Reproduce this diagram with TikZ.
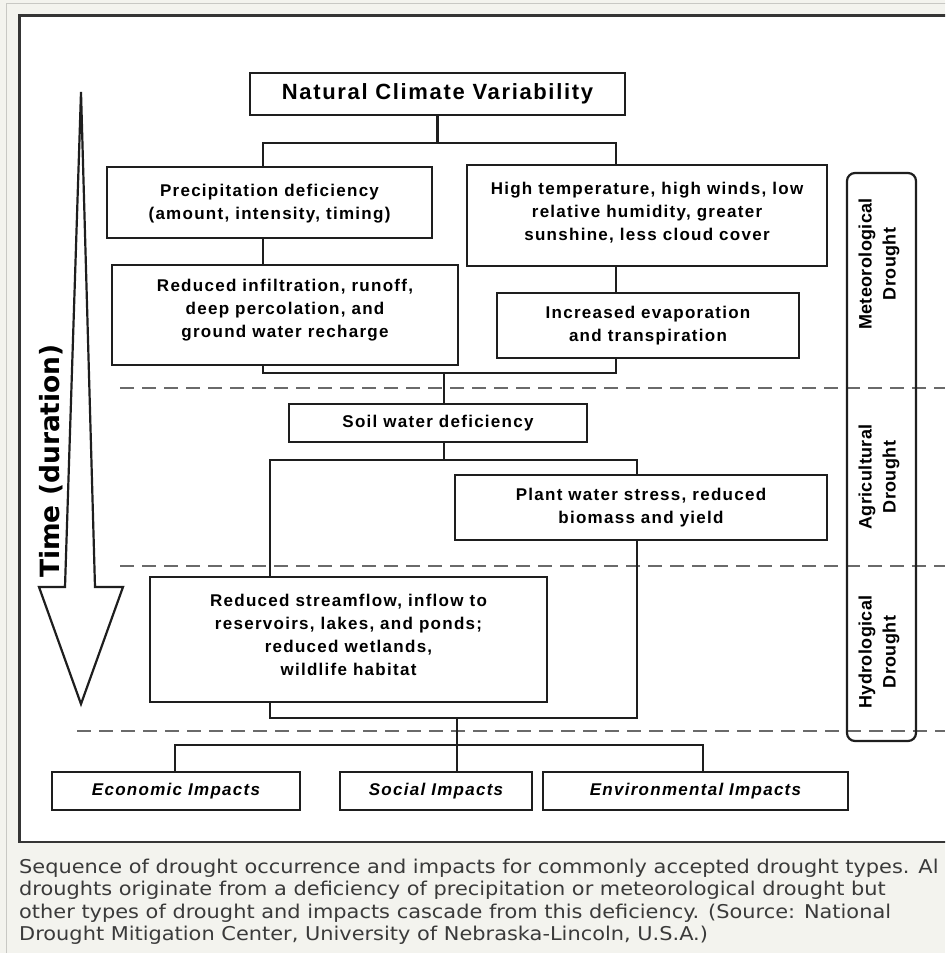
\documentclass[tikz,border=0pt]{standalone}
\usepackage{fontspec}
\setmainfont{Liberation Sans}
\newfontfamily\capfont[FakeStretch=1.1]{DejaVu Sans}
\newfontfamily\timefont{DejaVu Sans}
\definecolor{pagebg}{HTML}{F3F3EE}
\definecolor{framegray}{HTML}{C8C8C4}
\definecolor{ink}{HTML}{1E1E1E}
\definecolor{dashgray}{HTML}{6A6A6A}
\definecolor{captext}{HTML}{3A3A3A}
\newcommand\boxtext{\fontsize{17}{23}\selectfont\bfseries\addfontfeature{LetterSpace=7.5}}
\newcommand\boxat[7][]{%
  \node[box,minimum width={(#5-#3)*1pt},minimum height={(#6-#4)*1pt}] (#2) at ({(#3+#5)/2},{(#4+#6)/2}) {};
  \node[boxlabel,#1] (#2-t) at (#2.center) {#7};}
\tikzset{
  box/.style={draw=ink, line width=2.6pt, fill=white, inner sep=0pt},
  boxlabel/.style={inner sep=0pt, align=center, font=\boxtext},
  ital/.style={font=\boxtext\itshape},
  conn/.style={draw=ink, line width=2.6pt},
  sepline/.style={draw=dashgray, line width=2.8pt, dash pattern=on 14pt off 8pt},
  sidelabel/.style={rotate=90, align=center, font=\fontsize{18}{24}\selectfont\bfseries\addfontfeature{LetterSpace=2}},
  capline/.style={anchor=base west, inner sep=0pt, text=captext, font=\capfont\fontsize{19}{22.5}\selectfont},
}
\begin{document}
\begin{tikzpicture}[x=1pt,y=-1pt]
\useasboundingbox (0,0) rectangle (945,953);
\clip (0,0) rectangle (945,953);
% page background and panel
\fill[pagebg] (0,0) rectangle (945,953);
\draw[framegray, line width=1pt] (6.5,3) rectangle (960,970);
\draw[ink!90, line width=2.2pt, fill=white] (19.5,15.5) rectangle (960,842);

% separators
\draw[sepline] (120,388) -- (945,388);
\draw[sepline] (120,566) -- (945,566);
\draw[sepline] (77,731) -- (945,731);

% time arrow
\draw[ink, line width=2.2pt, line join=miter, fill=white]
  (81,92) -- (95,587) -- (123,587) -- (81,704) -- (39,587) -- (65,587) -- cycle;
\node[rotate=90, inner sep=0pt, font=\timefont\bfseries\fontsize{26.5}{30}\selectfont] (time) at (51,461) {Time (duration)};

% side box
\node[draw=ink, line width=2.2pt, rounded corners=8pt, fill=none, minimum width=69pt, minimum height=568pt, inner sep=0pt] (side) at (881.5,457) {};
\node[sidelabel] (meteo) at (879,264) {Meteorological\\Drought};
\node[sidelabel] (agri) at (879,477) {Agricultural\\Drought};
\node[sidelabel] (hydrol) at (879,652) {Hydrological\\Drought};

% boxes
\boxat{ncv}{250}{73}{625}{115}{\fontsize{22}{26}\selectfont Natural Climate Variability}
\boxat[yshift=-1pt]{precip}{107}{167}{432}{238}{Precipitation deficiency\\(amount, intensity, timing)}
\boxat[yshift=5pt]{reduced}{112}{265}{458}{365}{Reduced infiltration, runoff,\\deep percolation, and\\ground water recharge}
\boxat[yshift=3pt]{hitemp}{467}{165}{827}{266}{High temperature, high winds, low\\relative humidity, greater\\sunshine, less cloud cover}
\boxat{evap}{497}{293}{799}{358}{Increased evaporation\\and transpiration}
\boxat{soil}{289}{404}{587}{442}{Soil water deficiency}
\boxat{plant}{455}{475}{827}{540}{Plant water stress, reduced\\biomass and yield}
\boxat[yshift=5pt]{hydro}{150}{577}{547}{702}{Reduced streamflow, inflow to\\reservoirs, lakes, and ponds;\\reduced wetlands,\\wildlife habitat}
\boxat[ital]{econ}{52}{772}{300}{810}{Economic Impacts}
\boxat[ital]{social}{340}{772}{532}{810}{Social Impacts}
\boxat[ital]{env}{543}{772}{848}{810}{Environmental Impacts}

% helper x positions
\coordinate (xa) at (263,0);
\coordinate (xb) at (616,0);
\coordinate (xc) at (270,0);
\coordinate (xd) at (637,0);
\coordinate (xe) at (175,0);
\coordinate (xf) at (457,0);
\coordinate (xg) at (703,0);
\coordinate (xs) at (444,0);
\coordinate (j1) at (437.5,143);
\coordinate (j2) at (444,373);
\coordinate (j3) at (444,460);
\coordinate (j4) at (457,718);
\coordinate (j5) at (457,745);

% connectors
\draw[conn] (ncv.south) -- (j1);
\draw[conn] (precip.north -| xa) |- (j1) -| (hitemp.north -| xb);
\draw[conn] (precip.south -| xa) -- (reduced.north -| xa);
\draw[conn] (hitemp.south -| xb) -- (evap.north -| xb);
\draw[conn] (reduced.south -| xa) |- (j2) -| (evap.south -| xb);
\draw[conn] (j2) -- (soil.north -| xs);
\draw[conn] (soil.south -| xs) -- (j3);
\draw[conn] (hydro.north -| xc) |- (j3) -| (plant.north -| xd);
\draw[conn] (hydro.south -| xc) |- (j4) -| (plant.south -| xd);
\draw[conn] (j4) -- (j5);
\draw[conn] (econ.north -| xe) |- (j5) -| (env.north -| xg);
\draw[conn] (j5) -- (social.north -| xf);

% caption
\node[capline] (cap1) at (19,873) {Sequence of drought occurrence and impacts for commonly accepted drought types. Al};
\node[capline] (cap2) at (19,895.5) {droughts originate from a deficiency of precipitation or meteorological drought but};
\node[capline] (cap3) at (19,918) {other types of drought and impacts cascade from this deficiency. (Source: National};
\node[capline] (cap4) at (19,940.5) {Drought Mitigation Center, University of Nebraska-Lincoln, U.S.A.)};
\end{tikzpicture}
\end{document}
